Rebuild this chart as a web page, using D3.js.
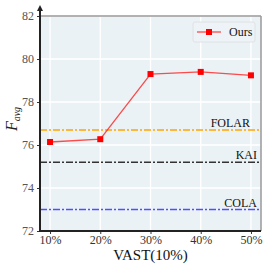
<!DOCTYPE html>
<html><head><meta charset="utf-8">
<script src="https://cdn.jsdelivr.net/npm/d3@7"></script>
<style>body{margin:0;background:#fff}svg{display:block}text{font-family:"Liberation Serif","DejaVu Serif",serif}</style>
</head><body>
<svg id="c" width="270" height="270"></svg>
<script>
const xVals = [10, 20, 30, 40, 50];
const xTickLabels = ["10%", "20%", "30%", "40%", "50%"];
const oursVals = [76.14, 76.27, 79.30, 79.40, 79.24];
const baselineNames = ["FOLAR", "KAI", "COLA"];
const baselineVals = [76.7, 75.2, 73.0];
const baselineColors = ["#ffa500", "#333333", "#4f4fff"];
const yTicks = [72, 74, 76, 78, 80, 82];

const svg = d3.select("#c");
const L = 40, R = 261, T = 16, B = 231;
const x = d3.scaleLinear().domain([8, 52]).range([L, R]);
const y = d3.scaleLinear().domain([72, 82]).range([B, T]);

svg.append("rect").attr("x", L).attr("y", T).attr("width", R - L).attr("height", B - T).attr("fill", "#eaf2f6");

// grid
svg.append("g").selectAll("line").data(yTicks).join("line")
  .attr("x1", L).attr("x2", R).attr("y1", d => y(d)).attr("y2", d => y(d))
  .attr("stroke", "#fff").attr("stroke-width", 1.3);
svg.append("g").selectAll("line").data(xVals).join("line")
  .attr("y1", T).attr("y2", B).attr("x1", d => x(d)).attr("x2", d => x(d))
  .attr("stroke", "#fff").attr("stroke-width", 1.3);

// baselines
baselineVals.forEach((v, i) => {
  svg.append("line").attr("x1", L).attr("x2", R).attr("y1", y(v)).attr("y2", y(v))
    .attr("stroke", baselineColors[i]).attr("stroke-width", 1.4)
    .attr("stroke-dasharray", "7,2,2,2");
});
const labelX = [250, 257, 257];
baselineNames.forEach((n, i) => {
  svg.append("text").attr("x", labelX[i]).attr("y", y(baselineVals[i]) - 3)
    .attr("text-anchor", "end").attr("font-size", 12).attr("fill", "#111").text(n);
});

// spines
svg.append("line").attr("x1", L).attr("x2", R).attr("y1", T).attr("y2", T).attr("stroke", "#999").attr("stroke-width", 1.5);
svg.append("line").attr("x1", R).attr("x2", R).attr("y1", T).attr("y2", B).attr("stroke", "#999").attr("stroke-width", 1.5);

// axes
const yAxis = d3.axisLeft(y).tickValues(yTicks).tickSize(3).tickFormat(d3.format("d"));
const gy = svg.append("g").attr("transform", `translate(${L},0)`).call(yAxis);
gy.select(".domain").remove();
gy.selectAll("text").attr("font-size", 12).attr("fill", "#555").attr("font-family", "Liberation Serif, serif");
gy.selectAll("line").attr("stroke", "#333");
const xAxis = d3.axisBottom(x).tickValues(xVals).tickSize(3).tickFormat((d, i) => xTickLabels[i]);
const gx = svg.append("g").attr("transform", `translate(0,${B})`).call(xAxis);
gx.select(".domain").remove();
gx.selectAll("text").attr("font-size", 12).attr("fill", "#333").attr("font-family", "Liberation Serif, serif").attr("dy", "0.6em");
gx.selectAll("line").attr("stroke", "#333");

svg.append("line").attr("x1", L).attr("x2", R).attr("y1", B).attr("y2", B).attr("stroke", "#222").attr("stroke-width", 2);
svg.append("line").attr("x1", L).attr("x2", L).attr("y1", B + 1).attr("y2", T - 6).attr("stroke", "#222").attr("stroke-width", 2);
svg.append("path").attr("d", `M${L - 3},${T - 5} L${L},${T - 11} L${L + 3},${T - 5} Z`).attr("fill", "#222");

// series
const line = d3.line().x((d, i) => x(xVals[i])).y(d => y(d));
svg.append("path").datum(oursVals).attr("d", line).attr("fill", "none")
  .attr("stroke", "#ff2020").attr("stroke-opacity", 0.8).attr("stroke-width", 1.3);
svg.append("g").selectAll("rect").data(oursVals).join("rect")
  .attr("x", (d, i) => x(xVals[i]) - 3).attr("y", d => y(d) - 3)
  .attr("width", 6).attr("height", 6).attr("fill", "#ff0000");

// legend
const lg = svg.append("g");
lg.append("rect").attr("x", 193).attr("y", 22).attr("width", 62).attr("height", 20).attr("rx", 2)
  .attr("fill", "#eef3f7").attr("stroke", "#ddd").attr("stroke-width", 0.8);
lg.append("line").attr("x1", 197).attr("x2", 221).attr("y1", 32).attr("y2", 32).attr("stroke", "#ff2020").attr("stroke-opacity", 0.8).attr("stroke-width", 1.3);
lg.append("rect").attr("x", 206).attr("y", 29).attr("width", 6).attr("height", 6).attr("fill", "#ff0000");
lg.append("text").attr("x", 229).attr("y", 36).attr("font-size", 12).attr("fill", "#111").text("Ours");

// labels
svg.append("text").attr("x", (L + R) / 2).attr("y", 260).attr("text-anchor", "middle")
  .attr("font-size", 15).attr("fill", "#111").text("VAST(10%)");
const yl = svg.append("text").attr("transform", `translate(17,119) rotate(-90)`)
  .attr("text-anchor", "middle").attr("font-size", 16).attr("fill", "#222").attr("font-style", "italic");
yl.append("tspan").text("F");
yl.append("tspan").attr("font-size", 10).attr("dy", 3).text("avg");
</script>
</body></html>
